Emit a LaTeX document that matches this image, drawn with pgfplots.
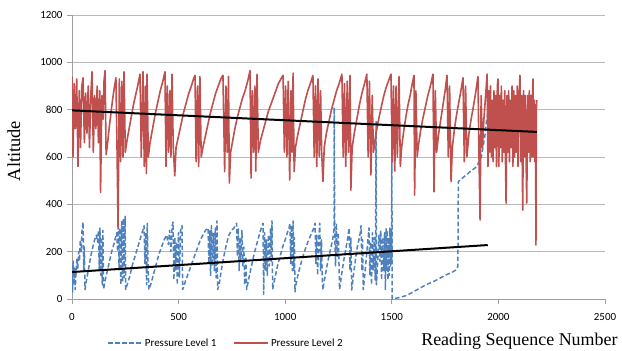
\documentclass[border=0pt]{standalone}
\usepackage{fontspec}
\setmainfont{Liberation Serif}
\newfontfamily\carlito{Carlito}
\usepackage{pgfplots}
\pgfplotsset{compat=1.18}
\definecolor{lvlone}{RGB}{79,129,189}
\definecolor{lvltwo}{RGB}{192,80,77}
\begin{document}
\begin{tikzpicture}[x=1bp,y=1bp]
\useasboundingbox (0,0) rectangle (622,350);
\begin{axis}[
  at={(72bp,51bp)}, anchor=south west,
  scale only axis, width=533bp, height=284bp,
  xmin=0, xmax=2500, ymin=0, ymax=1200,
  xtick={0,500,...,2500}, ytick={0,200,...,1200},
  axis lines*=left,
  axis line style={gray!75, line width=0.8bp},
  ymajorgrids, grid style={gray!55, line width=0.8bp},
  tick align=outside, major tick length=5bp,
  tick style={gray!75, line width=0.8bp},
  ticklabel style={font=\carlito\fontsize{11}{13}\selectfont},
  /pgf/number format/assume math mode=true,
  /pgf/number format/1000 sep={},
  xticklabel style={yshift=-6bp},
  yticklabel style={xshift=-1bp},
  xlabel={Reading Sequence Number},
  xlabel style={font=\fontsize{18}{20}\selectfont, at={(axis description cs:0.655,-0.162)}, anchor=base west, inner sep=0pt},
  ylabel={Altitude},
  ylabel style={font=\fontsize{18.5}{20}\selectfont, at={(axis description cs:-0.109,0.521)}, anchor=center},
  legend columns=2,
  legend style={at={(axis description cs:0.289,-0.155)}, anchor=center, draw=none, fill=none, font=\carlito\fontsize{11}{13}\selectfont},
  legend image code/.code={\draw[#1] (0bp,0bp) -- (34bp,0bp);},
  every axis plot/.append style={line join=round},
]
% Pressure Level 1
\addplot[lvlone, line width=1.5bp, dash pattern=on 4.5bp off 2.5bp] coordinates {
(0,150)(3,30)(6,160)(9,60)(12,130)(15,40)(19,110)(23,170)(27,130)(31,200)(35,160)(39,250)(43,200)(47,290)(52,325)(55,120)(58,220)(61,40)
(66,70)(74,110)(82,150)(90,190)(98,220)(106,250)(114,270)(120,240)(124,290)
(128,120)(131,300)(135,100)(139,260)(142,60)(145,290)(148,40)
(156,80)(166,120)(176,160)(186,200)(196,230)(204,260)(210,280)
(214,200)(217,320)(221,120)(225,300)(229,60)(233,330)(237,70)(241,340)(245,90)(249,350)(252,40)
(262,70)(272,100)(282,140)(292,170)(302,200)(312,230)(322,260)(332,290)(338,310)
(342,150)(346,280)(350,60)(353,320)(357,120)(361,40)
(372,70)(384,110)(396,150)(408,190)(420,220)(432,250)(444,270)(452,230)(458,290)(464,200)(470,310)(474,325)
(478,80)(482,260)(486,120)(490,240)(494,60)(499,280)(504,90)(509,290)(516,310)(519,40)
(530,70)(542,100)(554,130)(566,160)(578,190)(590,220)(602,250)(614,270)(626,290)(638,300)
(642,150)(646,290)(650,100)(654,310)(658,140)(663,280)(668,120)(672,300)(676,90)(680,330)(683,40)
(690,60)(700,120)(712,180)(724,230)(736,270)(748,290)(760,300)(772,320)
(776,180)(780,300)(784,120)(788,260)(792,160)(797,290)(802,140)(806,220)(810,60)(815,180)(819,40)
(830,90)(842,140)(854,190)(866,230)(878,270)(888,300)(896,320)
(899,20)(903,280)(907,120)(911,250)(916,100)(921,270)(926,140)(931,300)(935,160)(938,330)(941,40)
(952,90)(964,140)(976,180)(988,220)(1000,250)(1010,280)(1018,300)(1022,320)
(1026,150)(1030,310)(1034,120)(1037,330)(1041,120)(1043,260)(1046,30)(1050,60)
(1062,110)(1074,150)(1086,190)(1098,220)(1110,250)(1120,270)(1130,290)(1140,320)
(1144,150)(1148,270)(1152,100)(1156,230)(1162,321)(1166,120)(1170,250)(1174,80)(1177,38)(1180,60)
(1190,110)(1200,160)(1210,200)(1220,240)(1226,270)(1229,300)
(1230,810)(1232,290)(1236,140)(1240,320)(1244,180)(1249,280)(1255,40)
(1264,100)(1274,160)(1284,210)(1292,250)(1300,300)
(1304,120)(1308,260)(1312,38)(1320,100)(1330,170)(1338,220)(1346,250)(1352,280)(1356,310)(1360,120)(1363,250)(1366,40)
(1372,90)(1380,170)(1388,250)(1393,300)(1397,100)(1401,240)(1405,60)(1409,280)(1413,120)(1418,260)(1422,80)(1424,200)
(1426,750)(1428,60)(1434,160)(1440,270)(1444,160)(1448,290)(1452,80)(1457,260)(1462,120)(1466,280)(1470,40)
(1473,300)(1476,120)(1479,290)(1482,80)(1485,260)(1488,100)(1491,300)(1494,140)(1497,280)(1499,150)(1500,680)(1502,0)
(1510,2)(1530,5)(1550,10)(1570,15)(1600,30)(1630,45)(1660,60)(1694,73)(1720,85)(1750,100)(1787,115)(1805,125)(1810,140)
(1812,496)(1830,510)(1850,525)(1870,540)(1898,559)(1920,600)(1937,693)(1945,760)(1950,780)
};
\addlegendentry{Pressure Level 1\hspace*{15bp}}
% Pressure Level 2
\addplot[lvltwo, line width=1.6bp] coordinates {
(0,940)(5,600)(10,910)(16,720)(22,930)(28,560)(34,880)(40,640)(46,900)(52,935)(58,660)(64,870)(70,700)(76,900)(82,640)(88,860)(94,960)(100,620)(106,860)(112,720)(118,900)(124,660)(130,880)(134,450)(140,860)(146,760)(150,920)(155,965)(160,610)
(166,650)(174,720)(182,780)(190,840)(198,890)(206,935)
(211,650)(216,305)(222,930)(228,580)(234,920)(239,600)(244,960)(250,620)
(258,670)(268,720)(278,770)(288,820)(298,860)(308,900)(319,950)
(325,600)(333,960)(339,560)(345,900)(349,530)(352,950)(358,600)
(366,660)(378,720)(390,780)(402,830)(414,880)(426,920)(436,960)
(441,560)(447,900)(453,620)(459,880)(464,600)(469,950)(475,640)(482,520)
(488,640)(500,690)(512,740)(524,790)(536,830)(548,870)(560,900)(570,930)(577,945)
(582,580)(589,900)(594,560)(600,940)(606,600)
(614,640)(626,690)(638,740)(650,790)(662,830)(674,870)(686,900)(698,930)(708,945)
(716,538)(722,900)(728,620)(734,940)(738,490)(744,620)
(752,660)(764,720)(776,770)(788,810)(800,850)(812,880)(824,920)(835,965)
(840,511)(846,880)(852,620)(858,900)(862,540)(868,950)(874,620)
(884,670)(896,710)(908,750)(920,790)(932,820)(944,850)(956,880)(968,910)(980,930)(990,945)
(996,620)(1002,900)(1008,600)(1014,920)(1021,503)(1027,880)(1032,620)(1037,955)(1042,538)(1048,640)
(1058,690)(1070,740)(1082,790)(1094,840)(1106,880)(1118,910)(1130,945)
(1136,600)(1142,900)(1148,560)(1154,930)(1160,600)(1166,880)(1171,620)(1177,496)(1183,640)
(1193,700)(1205,750)(1217,800)(1229,840)(1241,880)(1253,910)(1266,950)
(1272,600)(1278,910)(1284,560)(1291,920)(1297,620)(1304,945)(1308,460)(1314,640)
(1324,700)(1336,760)(1348,820)(1360,870)(1372,910)(1383,950)
(1389,600)(1395,920)(1402,524)(1408,860)(1414,620)
(1424,690)(1436,750)(1448,800)(1460,850)(1472,890)(1484,920)(1496,950)
(1502,580)(1508,900)(1514,540)(1520,900)(1526,600)(1534,940)(1540,560)(1546,640)
(1556,710)(1566,770)(1576,820)(1586,860)(1596,910)(1604,945)
(1607,439)(1613,880)(1619,600)(1625,650)
(1635,710)(1645,760)(1657,810)(1669,860)(1681,900)(1693,950)
(1698,453)(1704,880)(1710,620)
(1720,700)(1730,760)(1740,820)(1750,880)(1759,945)
(1765,600)(1771,900)(1778,496)(1784,640)
(1794,720)(1804,780)(1814,830)(1824,880)(1834,935)
(1840,580)(1846,900)(1852,600)
(1862,700)(1872,760)(1882,810)(1893,870)(1904,940)
(1909,600)(1914,334)(1919,860)(1925,640)
(1932,760)(1940,860)(1947,950)
(1951,560)(1955,880)(1959,620)(1963,900)(1967,600)(1971,840)(1975,580)(1979,880)(1983,640)(1987,860)(1991,560)(1995,900)(1998,930)
(2002,560)(2006,860)(2010,640)(2014,900)(2018,580)(2022,840)(2026,620)(2030,880)(2033,600)(2036,405)(2040,860)(2044,620)(2048,880)
(2052,580)(2056,840)(2060,640)(2064,900)(2068,560)(2072,880)(2076,600)(2080,860)(2084,620)(2088,900)(2092,560)(2096,850)(2099,900)
(2101,945)(2105,580)(2109,860)(2114,376)(2118,880)(2122,600)(2126,860)(2130,580)(2133,405)(2137,860)(2141,620)(2145,880)(2149,580)
(2153,860)(2157,600)(2160,860)(2162,930)(2165,600)(2168,840)(2171,580)(2174,820)(2176,228)(2178,800)(2180,840)
};
\addlegendentry{Pressure Level 2}
% Linear trend lines
\addplot[black, line width=2bp, forget plot] coordinates {(0,797) (2180,706)};
\addplot[black, line width=2bp, forget plot] coordinates {(0,114) (1950,228)};
\end{axis}
\end{tikzpicture}
\end{document}
